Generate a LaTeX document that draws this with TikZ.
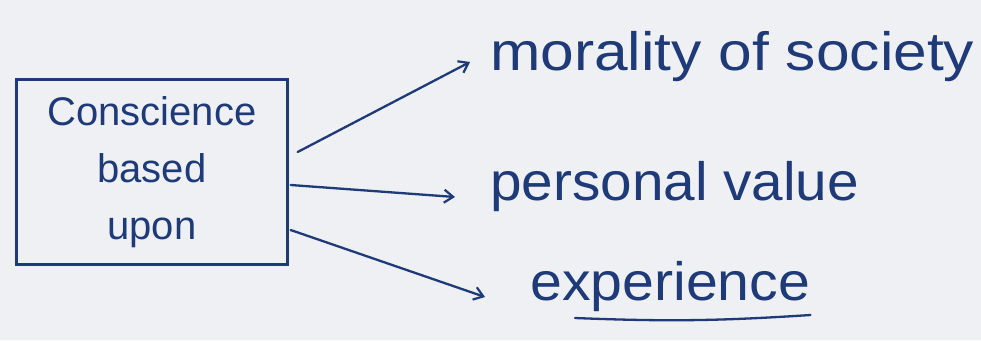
\documentclass[tikz,border=0pt]{standalone}
\usepackage{fontspec}
\usepackage{graphicx}
\setmainfont{Liberation Sans}
\usetikzlibrary{calc,arrows.meta}
\definecolor{ink}{HTML}{1E3A78}
\definecolor{paper}{HTML}{EEF0F3}
\begin{document}
\begin{tikzpicture}[x=1pt,y=-1pt,
  inkline/.style={draw=ink,line width=2.3pt,line cap=round},
  arr/.style={inkline,-{Straight Barb[length=9pt,width=13pt,line width=2.2pt]}},
  lbl/.style={text=ink,inner sep=0pt,anchor=base west,font=\fontsize{54}{60}\selectfont},
  boxtxt/.style={inkline,text=ink,align=center,minimum width=271pt,minimum height=185pt,inner sep=0pt,
     font=\fontsize{40}{57}\selectfont}]
\fill[paper] (0,0) rectangle (981,340);
\useasboundingbox (0,0) rectangle (981,340);
\node[boxtxt] (box) at (152,172) {Conscience\\based\\upon};
\node[lbl] (m) at (490,70) {\scalebox{1.12}[1]{morality of society}};
\node[lbl] (p) at (490,200) {\scalebox{1.05}[1]{personal value}};
\node[lbl] (e) at (530,300) {\scalebox{1.06}[1]{experience}};
\draw[arr] ([xshift=9pt,yshift=20pt]box.east) -- ([xshift=-20pt,yshift=8pt]m.base west);
\draw[arr] ([xshift=2pt,yshift=-13pt]box.east) -- ([xshift=-35pt,yshift=3pt]p.base west);
\draw[arr] ([xshift=2pt,yshift=-58pt]box.east) -- ([xshift=-45pt,yshift=3pt]e.base west);
\draw[inkline] ($(e.base west)+(45,18)$) to[bend right=3] ($(e.base east)+(0,15)$);
\end{tikzpicture}
\end{document}
